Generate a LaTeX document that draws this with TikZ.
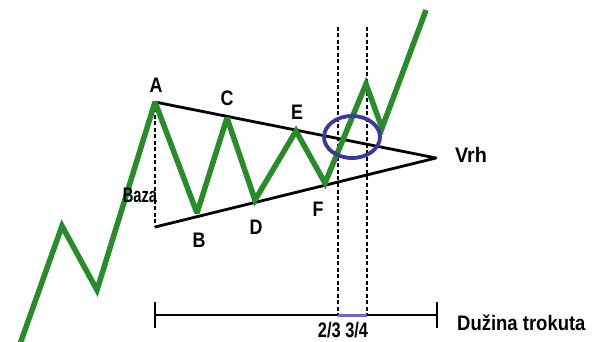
\documentclass[tikz,border=0pt]{standalone}
\usepackage{fontspec}
\setmainfont{Liberation Sans}
\definecolor{trendgreen}{RGB}{40,140,40}
\definecolor{ringblue}{RGB}{60,55,160}
\definecolor{segblue}{RGB}{110,100,210}
\begin{document}
\begin{tikzpicture}[x=1pt,y=-1pt,
  greenline/.style={line width=5.5pt, draw=trendgreen, line join=miter, miter limit=3},
  triline/.style={line width=2.8pt, draw=black, line join=round},
  dashline/.style={line width=2.6pt, draw=black, dash pattern=on 4pt off 2.5pt},
  lbl/.style={font=\bfseries\fontsize{21}{21}\selectfont, inner sep=0pt, text=black},
  narrow/.style={xscale=#1, transform shape}
]
\useasboundingbox (0,0) rectangle (597,342);

% key points
\coordinate (p0) at (20,344);
\coordinate (p1) at (62,226);
\coordinate (p2) at (97,290);
\coordinate (A) at (155,102);
\coordinate (B) at (197,213);
\coordinate (C) at (227,118);
\coordinate (D) at (255,200);
\coordinate (E) at (296,131);
\coordinate (F) at (325,183);
\coordinate (G) at (366,84);
\coordinate (H) at (382,128);
\coordinate (p9) at (426,10);
\coordinate (base) at (155,227);
\coordinate (apex) at (436,158);
\coordinate (d1top) at (338,27);
\coordinate (d1bot) at (338,315);
\coordinate (d2top) at (367,27);
\coordinate (d2bot) at (367,315);
\coordinate (sL) at (155,315);
\coordinate (sR) at (437,315);

% triangle
\draw[triline] (A) -- (apex) -- (base);
\draw[dashline] (A) -- (base);

% dashed verticals
\draw[dashline] (d1top) -- (d1bot);
\draw[dashline] (d2top) -- (d2bot);

% green price line
\draw[greenline] (p0) -- (p1) -- (p2) -- (A) -- (B) -- (C) -- (D) -- (E) -- (F) -- (G) -- (H) -- (p9);

% breakout ring
\draw[ringblue, line width=3.8pt] (352,137) ellipse [x radius=28, y radius=21];

% length scale
\draw[line width=2.6pt] (sL) -- (sR);
\draw[line width=2.6pt] (155,302) -- (155,328);
\draw[line width=2.6pt] (437,302) -- (437,328);
\draw[segblue, line width=3pt] (d1bot) -- (d2bot);

% labels
\node[lbl, narrow=0.85] (lA) at (156,85) {A};
\node[lbl, narrow=0.85] (lC) at (227,98) {C};
\node[lbl, narrow=0.85] (lE) at (297,112) {E};
\node[lbl, narrow=0.85] (lB) at (199,240) {B};
\node[lbl, narrow=0.85] (lD) at (256,227) {D};
\node[lbl, narrow=0.85] (lF) at (318,209) {F};
\node[lbl, narrow=0.7] (lBaza) at (140,195) {Baza};
\node[lbl, narrow=0.94] (lVrh) at (471,155) {Vrh};
\node[lbl, narrow=0.78] (lfrac) at (343,330) {2/3 3/4};
\node[lbl, narrow=0.88, anchor=west] (llen) at (457,323) {Dužina trokuta};
\end{tikzpicture}
\end{document}
